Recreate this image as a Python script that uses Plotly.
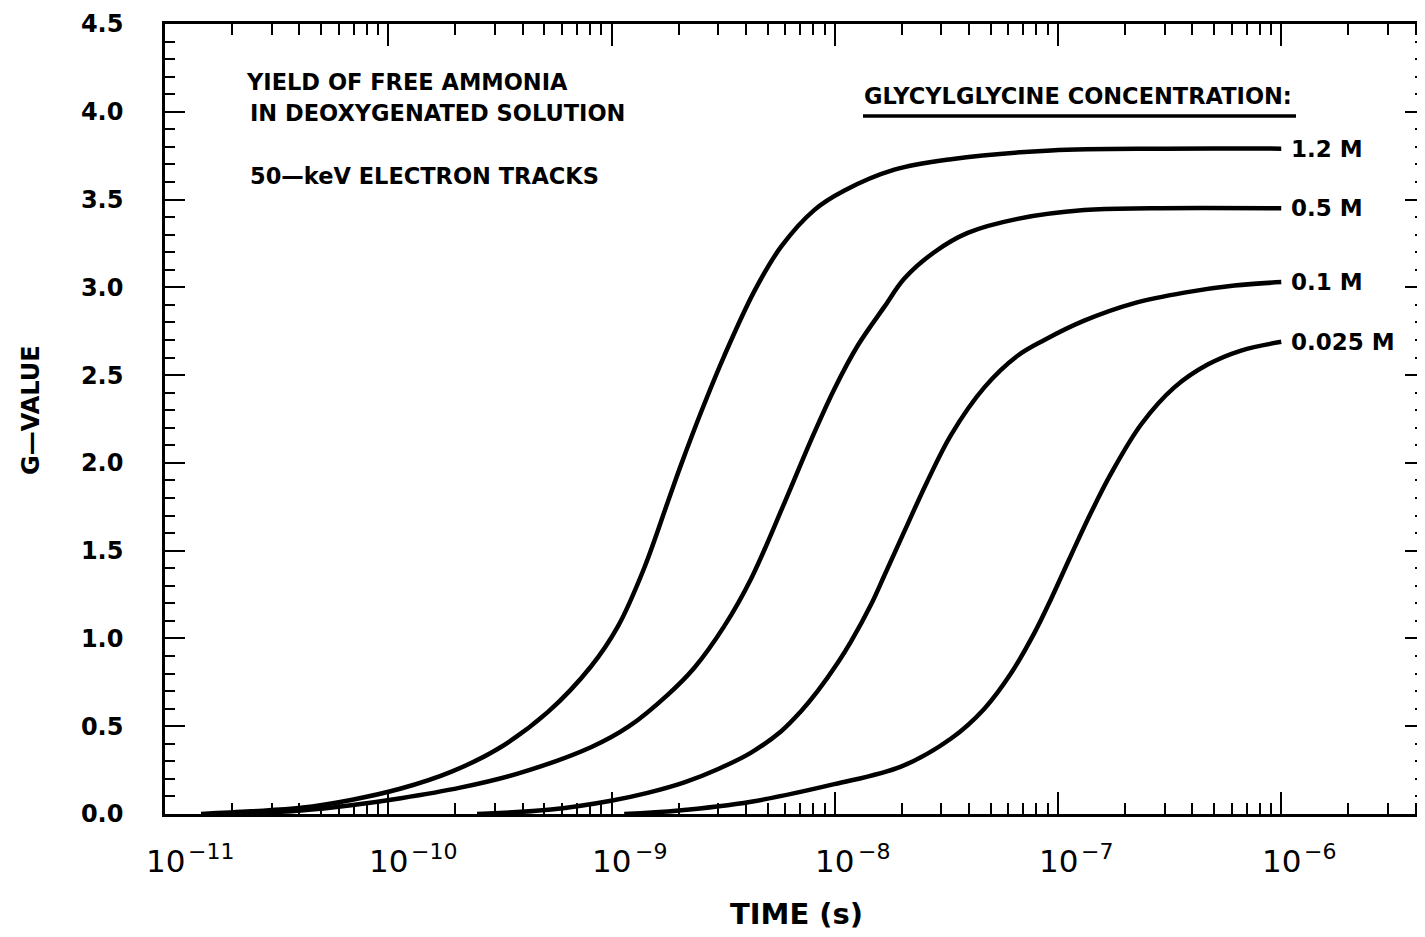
import math
import plotly.graph_objects as go

# ---------------- data ----------------
time_12 = [1.45e-11, 2.43e-11, 4.06e-11, 6.81e-11, 1.14e-10, 1.91e-10, 3.09e-10, 5.18e-10,
           8.09e-10, 1.07e-9, 1.40e-9, 1.79e-9, 2.05e-9, 2.52e-9, 3.20e-9, 4.37e-9,
           5.74e-9, 8.09e-9, 1.10e-8, 1.85e-8, 3.32e-8, 9.31e-8, 3.0e-7, 1.0e-6]
g_12 = [0.0, 0.015, 0.035, 0.08, 0.145, 0.24, 0.37, 0.58,
        0.84, 1.07, 1.40, 1.78, 1.99, 2.29, 2.61, 2.98,
        3.23, 3.44, 3.55, 3.67, 3.73, 3.78, 3.79, 3.79]

time_05 = [2.0e-11, 4.06e-11, 6.81e-11, 1.14e-10, 2.1e-10, 3.8e-10, 8.09e-10, 1.2e-9,
           1.79e-9, 2.34e-9, 3.2e-9, 4.22e-9, 5.94e-9, 7.83e-9, 9.95e-9, 1.27e-8,
           1.67e-8, 2.05e-8, 2.79e-8, 3.94e-8, 6.59e-8, 1.31e-7, 2.61e-7, 1.0e-6]
g_05 = [0.0, 0.02, 0.05, 0.09, 0.15, 0.23, 0.38, 0.50,
        0.68, 0.83, 1.07, 1.34, 1.77, 2.13, 2.42, 2.67,
        2.89, 3.05, 3.20, 3.31, 3.39, 3.44, 3.45, 3.45]

time_01 = [2.5e-10, 5.36e-10, 9.95e-10, 1.45e-9, 2.12e-9, 2.99e-9, 4.22e-9, 5.74e-9,
           7.0e-9, 8.38e-9, 1.03e-8, 1.18e-8, 1.45e-8, 1.67e-8, 2.05e-8, 2.61e-8,
           3.32e-8, 4.68e-8, 6.59e-8, 8.69e-8, 1.31e-7, 2.20e-7, 3.68e-7, 6.17e-7, 1.0e-6]
g_01 = [0.0, 0.025, 0.075, 0.12, 0.18, 0.255, 0.35, 0.47,
        0.58, 0.70, 0.86, 0.98, 1.19, 1.36, 1.61, 1.90,
        2.16, 2.43, 2.61, 2.70, 2.81, 2.91, 2.97, 3.01, 3.03]

time_0025 = [1.14e-9, 2.0e-9, 4.22e-9, 9.95e-9, 1.98e-8, 3.32e-8, 4.68e-8, 6.15e-8,
             7.83e-8, 9.31e-8, 1.14e-7, 1.41e-7, 1.73e-7, 2.36e-7, 3.32e-7, 4.68e-7,
             6.61e-7, 1.0e-6]
g_0025 = [0.0, 0.02, 0.07, 0.17, 0.27, 0.43, 0.60, 0.80,
          1.03, 1.225, 1.47, 1.72, 1.94, 2.22, 2.43, 2.56,
          2.64, 2.69]

series_labels = ["1.2 M", "0.5 M", "0.1 M", "0.025 M"]
series_times = [time_12, time_05, time_01, time_0025]
series_g = [g_12, g_05, g_01, g_0025]

decades = [-11, -10, -9, -8, -7, -6]
y_major = [0.0, 0.5, 1.0, 1.5, 2.0, 2.5, 3.0, 3.5, 4.0, 4.5]
y_tick_text = ["0.0", "0.5", "1.0", "1.5", "2.0", "2.5", "3.0", "3.5", "4.0", "4.5"]

# ---------------- layout geometry ----------------
OFF = 8                      # page offset of the figure div
W, H = 1425 - OFF, 937 - OFF
L, R, T, B = 157, 0, 16, 123
PW, PH = W - L - R, H - T - B
DEC_PX = 223.25
x_range = [-11, -11 + PW / DEC_PX]


def px_x(page_px):
    return (page_px - OFF - L) / PW


def px_y(page_py):
    return (H - B - (page_py - OFF)) / PH


TXT = dict(family="DejaVu Sans", size=22.5, color="black", weight="bold")

fig = go.Figure()
for t, g, lab in zip(series_times, series_g, series_labels):
    fig.add_trace(go.Scatter(x=t, y=g, mode="lines", name=lab, showlegend=False,
                             line=dict(color="black", width=4.5, shape="spline", smoothing=1.0)))
    fig.add_annotation(x=math.log10(t[-1]), y=g[-1], xref="x", yref="y",
                       text=lab, showarrow=False, xanchor="left", yanchor="middle",
                       xshift=8, font=dict(family="DejaVu Sans", size=23, color="black", weight="bold"))

x_minor = [m * 10.0 ** d for d in range(-11, -5) for m in range(2, 10)]
y_minor = [round(0.1 * i, 1) for i in range(0, 46)]

fig.update_xaxes(type="log", range=x_range, showgrid=False, zeroline=False,
                 showline=True, linecolor="black", linewidth=2.5, mirror="ticks",
                 tickmode="array", tickvals=[10.0 ** d for d in decades],
                 ticks="inside", ticklen=22, tickwidth=2, tickcolor="black",
                 showticklabels=False,
                 minor=dict(tickmode="array", tickvals=x_minor, ticks="inside",
                            ticklen=11, tickwidth=2, tickcolor="black", showgrid=False))
fig.update_yaxes(range=[0, 4.5], showgrid=False, zeroline=False,
                 showline=True, linecolor="black", linewidth=2.5, mirror="ticks",
                 tickmode="array", tickvals=y_major, ticktext=y_tick_text,
                 ticks="inside", ticklen=20, tickwidth=2, tickcolor="black",
                 ticklabelstandoff=34,
                 tickfont=dict(family="DejaVu Sans", size=24, color="black", weight="bold"),
                 minor=dict(tickmode="array", tickvals=y_minor, ticks="inside",
                            ticklen=10, tickwidth=2, tickcolor="black", showgrid=False))

# x tick labels: "10" centred on the decade tick, exponent raised to its right
for d in decades:
    fig.add_annotation(x=d, y=0, xref="x", yref="paper", text="10",
                       showarrow=False, xanchor="center", yanchor="middle", yshift=-47,
                       font=dict(family="DejaVu Sans", size=31, color="black"))
    fig.add_annotation(x=d, y=0, xref="x", yref="paper", text=f"\u2212{abs(d)}",
                       showarrow=False, xanchor="left", yanchor="middle", xshift=21, yshift=-37,
                       font=dict(family="DejaVu Sans", size=22, color="black"))

# axis titles
fig.add_annotation(x=px_x(796), y=px_y(914), xref="paper", yref="paper", text="TIME (s)",
                   showarrow=False, xanchor="center", yanchor="middle",
                   font=dict(family="DejaVu Sans", size=29, color="black", weight="bold"))
fig.add_annotation(x=px_x(31), y=px_y(410), xref="paper", yref="paper", text="G\u2014VALUE",
                   showarrow=False, xanchor="center", yanchor="middle", textangle=-90,
                   font=dict(family="DejaVu Sans", size=24, color="black", weight="bold"))

# in-plot text
for txt, x0, y0 in [("YIELD OF FREE AMMONIA", 244, 82),
                    ("IN DEOXYGENATED SOLUTION", 248, 113),
                    ("50\u2014keV ELECTRON TRACKS", 248, 176),
                    ("GLYCYLGLYCINE CONCENTRATION:", 862, 96)]:
    fig.add_annotation(x=px_x(x0), y=px_y(y0), xref="paper", yref="paper", text=txt,
                       showarrow=False, xanchor="left", yanchor="middle", font=TXT)
fig.add_shape(type="line", xref="paper", yref="paper", x0=px_x(863), x1=px_x(1296),
              y0=px_y(116), y1=px_y(116), line=dict(color="black", width=3.5))

fig.update_layout(width=W, height=H, margin=dict(l=L, r=R, t=T, b=B, autoexpand=False),
                  plot_bgcolor="white", paper_bgcolor="white", showlegend=False)

fig.write_html("out.html")
